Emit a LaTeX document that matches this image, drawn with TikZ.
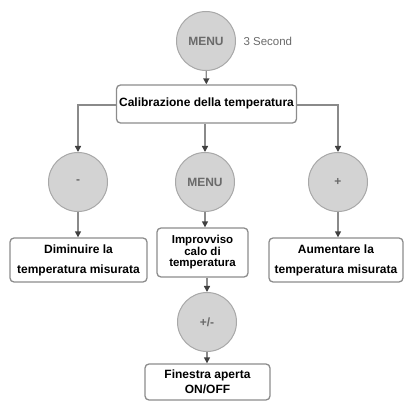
\documentclass[tikz,border=0pt]{standalone}
\usepackage{fontspec}
\setmainfont{Liberation Sans}
\usetikzlibrary{arrows.meta}
\definecolor{circfill}{HTML}{D3D3D3}
\definecolor{circline}{HTML}{A8A8A8}
\definecolor{boxline}{HTML}{8C8C8C}
\definecolor{conn}{HTML}{8A8A8A}
\definecolor{btntext}{HTML}{6A6A6A}
\begin{document}
\begin{tikzpicture}[x=1pt,y=-1pt,
  btn/.style={circle,draw=circline,fill=circfill,line width=1pt,minimum size=59pt,inner sep=0pt,
    font=\bfseries\fontsize{12}{12}\selectfont,text=btntext},
  stepbox/.style={draw=boxline,rounded corners=4pt,line width=1.3pt,fill=white,inner sep=0pt,
    align=center,font=\bfseries\fontsize{12}{14}\selectfont},
  conn/.style={draw=conn,line width=1.4pt,-{Triangle[length=6pt,width=6pt,fill=black!75,color=black!75]}}]
\useasboundingbox (0,0) rectangle (405,401);
\node[btn] (menu1) at (206,41) {MENU};
\node[anchor=west,text=btntext,font=\fontsize{11.5}{12}\selectfont] (sec) at (240,41) {3 Second};
\node[stepbox,minimum width=180pt,minimum height=38pt] (cal) at (206.5,104) {\raisebox{3pt}{Calibrazione della temperatura}};
\node[btn] (minus) at (78,182) {-};
\node[btn] (menu2) at (205,182) {MENU};
\node[btn] (plus) at (338,182) {+};
\node[stepbox,minimum width=137pt,minimum height=44pt,font=\bfseries\fontsize{12}{20}\selectfont] (dim) at (78.5,260) {Diminuire la\\temperatura misurata};
\node[stepbox,minimum width=91pt,minimum height=49pt,font=\bfseries\fontsize{11.5}{11.5}\selectfont] (imp) at (202.5,252.5) {Improvviso\\calo di\\temperatura};
\node[stepbox,minimum width=134pt,minimum height=44pt,font=\bfseries\fontsize{12}{20}\selectfont] (aum) at (336,260) {Aumentare la\\temperatura misurata};
\node[btn] (pm) at (207,322) {+/-};
\node[stepbox,minimum width=125pt,minimum height=36pt,font=\bfseries\fontsize{12}{15}\selectfont] (fin) at (207.5,382) {Finestra aperta\\ON/OFF};
\coordinate (cl) at (cal.west |- 0,105);
\coordinate (cr) at (cal.east |- 0,105);
\draw[conn] (menu1) -- (cal);
\draw[conn] (cl) -| (minus.north);
\draw[conn] (cr) -| (plus.north);
\draw[conn] (cal.south -| menu2) -- (menu2.north);
\draw[conn] (minus) -- (minus |- dim.north);
\draw[conn] (menu2) -- (menu2 |- imp.north);
\draw[conn] (plus) -- (plus |- aum.north);
\draw[conn] (imp.south -| pm) -- (pm.north);
\draw[conn] (pm) -- (pm |- fin.north);
\end{tikzpicture}
\end{document}
